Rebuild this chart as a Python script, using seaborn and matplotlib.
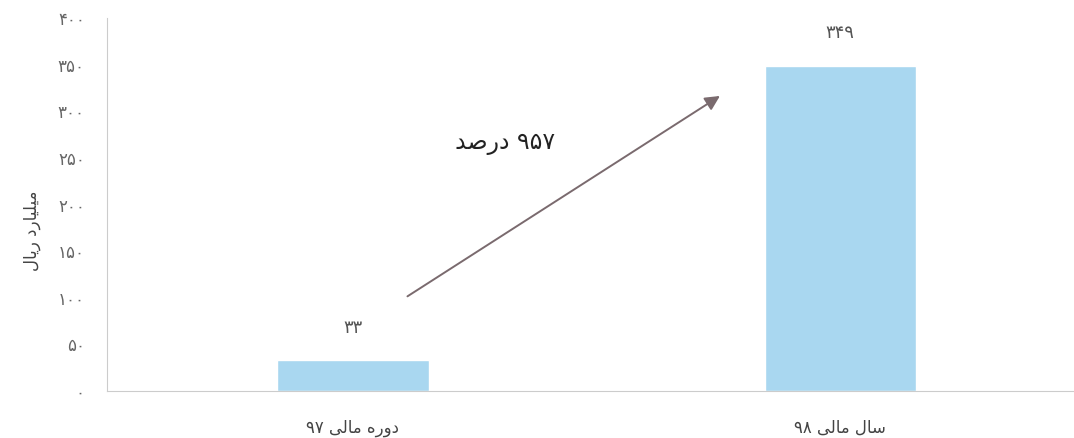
import re
import numpy as np
import matplotlib
matplotlib.use("Agg")
import matplotlib.pyplot as plt
import seaborn as sns

# data
categories = ["دوره مالی ۹۷", "سال مالی ۹۸"]
values = [33, 349]
value_labels = ["۳۳", "۳۴۹"]
y_ticks = [0, 50, 100, 150, 200, 250, 300, 350, 400]
y_tick_labels = ["۰", "۵۰", "۱۰۰", "۱۵۰", "۲۰۰", "۲۵۰", "۳۰۰", "۳۵۰", "۴۰۰"]
y_title = "میلیارد ریال"
growth_text = "۹۵۷ درصد"

# presentation forms: (isolated, final, initial, medial)
FORMS = {
    "ا": ("\uFE8D", "\uFE8E", "\uFE8D", "\uFE8E"),
    "د": ("\uFEA9", "\uFEAA", "\uFEA9", "\uFEAA"),
    "ر": ("\uFEAD", "\uFEAE", "\uFEAD", "\uFEAE"),
    "و": ("\uFEED", "\uFEEE", "\uFEED", "\uFEEE"),
    "م": ("\uFEE1", "\uFEE2", "\uFEE3", "\uFEE4"),
    "ل": ("\uFEDD", "\uFEDE", "\uFEDF", "\uFEE0"),
    "ه": ("\uFEE9", "\uFEEA", "\uFEEB", "\uFEEC"),
    "س": ("\uFEB1", "\uFEB2", "\uFEB3", "\uFEB4"),
    "ص": ("\uFEB9", "\uFEBA", "\uFEBB", "\uFEBC"),
    "ی": ("\uFBFC", "\uFBFD", "\uFBFE", "\uFBFF"),
}
RIGHT_ONLY = set("ادرو")


def fa(s):
    # join letters, then put them in visual (left to right) order
    out = []
    for i, c in enumerate(s):
        if c not in FORMS:
            out.append(c)
            continue
        prev = s[i - 1] if i > 0 else ""
        nxt = s[i + 1] if i + 1 < len(s) else ""
        jp = prev in FORMS and prev not in RIGHT_ONLY
        jn = nxt in FORMS and c not in RIGHT_ONLY
        iso, fin, ini, med = FORMS[c]
        if jp and jn:
            out.append(med)
        elif jp:
            out.append(fin)
        elif jn:
            out.append(ini)
        else:
            out.append(iso)
    vis = "".join(out)[::-1]
    return re.sub("[۰-۹]+", lambda m: m.group(0)[::-1], vis)


sns.set_style("white")
plt.rcParams["font.family"] = ["DejaVu Sans"]

fig = plt.figure(figsize=(10.74, 4.38), dpi=100)
ax = fig.add_axes([0.0996, 0.107, 0.9004, 0.852])

sns.barplot(x=categories, y=values, color="#a9d7f0", saturation=1,
            width=0.31, ax=ax)

ax.set_xlim(-0.505, 1.48)
ax.set_ylim(0, 400)
ax.set_yticks(y_ticks)
ax.set_yticklabels(y_tick_labels)
ax.set_xticks([0, 1])
ax.set_xticklabels([fa(c) for c in categories])
ax.tick_params(axis="y", length=0, pad=16, labelsize=12, labelcolor="#666666")
ax.tick_params(axis="x", length=0, pad=20, labelsize=12, labelcolor="#444444")

ax.bar_label(ax.containers[0], labels=value_labels, padding=17,
             fontsize=13, color="#555555")

ax.set_ylabel(fa(y_title), fontsize=12, color="#444444")
ax.yaxis.set_label_coords(-0.068, 0.43)

for side in ["top", "right"]:
    ax.spines[side].set_visible(False)
for side in ["left", "bottom"]:
    ax.spines[side].set_color("#cccccc")
    ax.spines[side].set_linewidth(0.8)

ax.annotate("", xy=(0.758, 318), xytext=(0.107, 100),
            arrowprops=dict(arrowstyle="-|>", color="#7a6a6e", lw=1.4,
                            mutation_scale=22))
ax.text(0.312, 266, fa(growth_text), fontsize=17, color="#222222",
        ha="center", va="center")

plt.savefig("out.png", dpi=100)
